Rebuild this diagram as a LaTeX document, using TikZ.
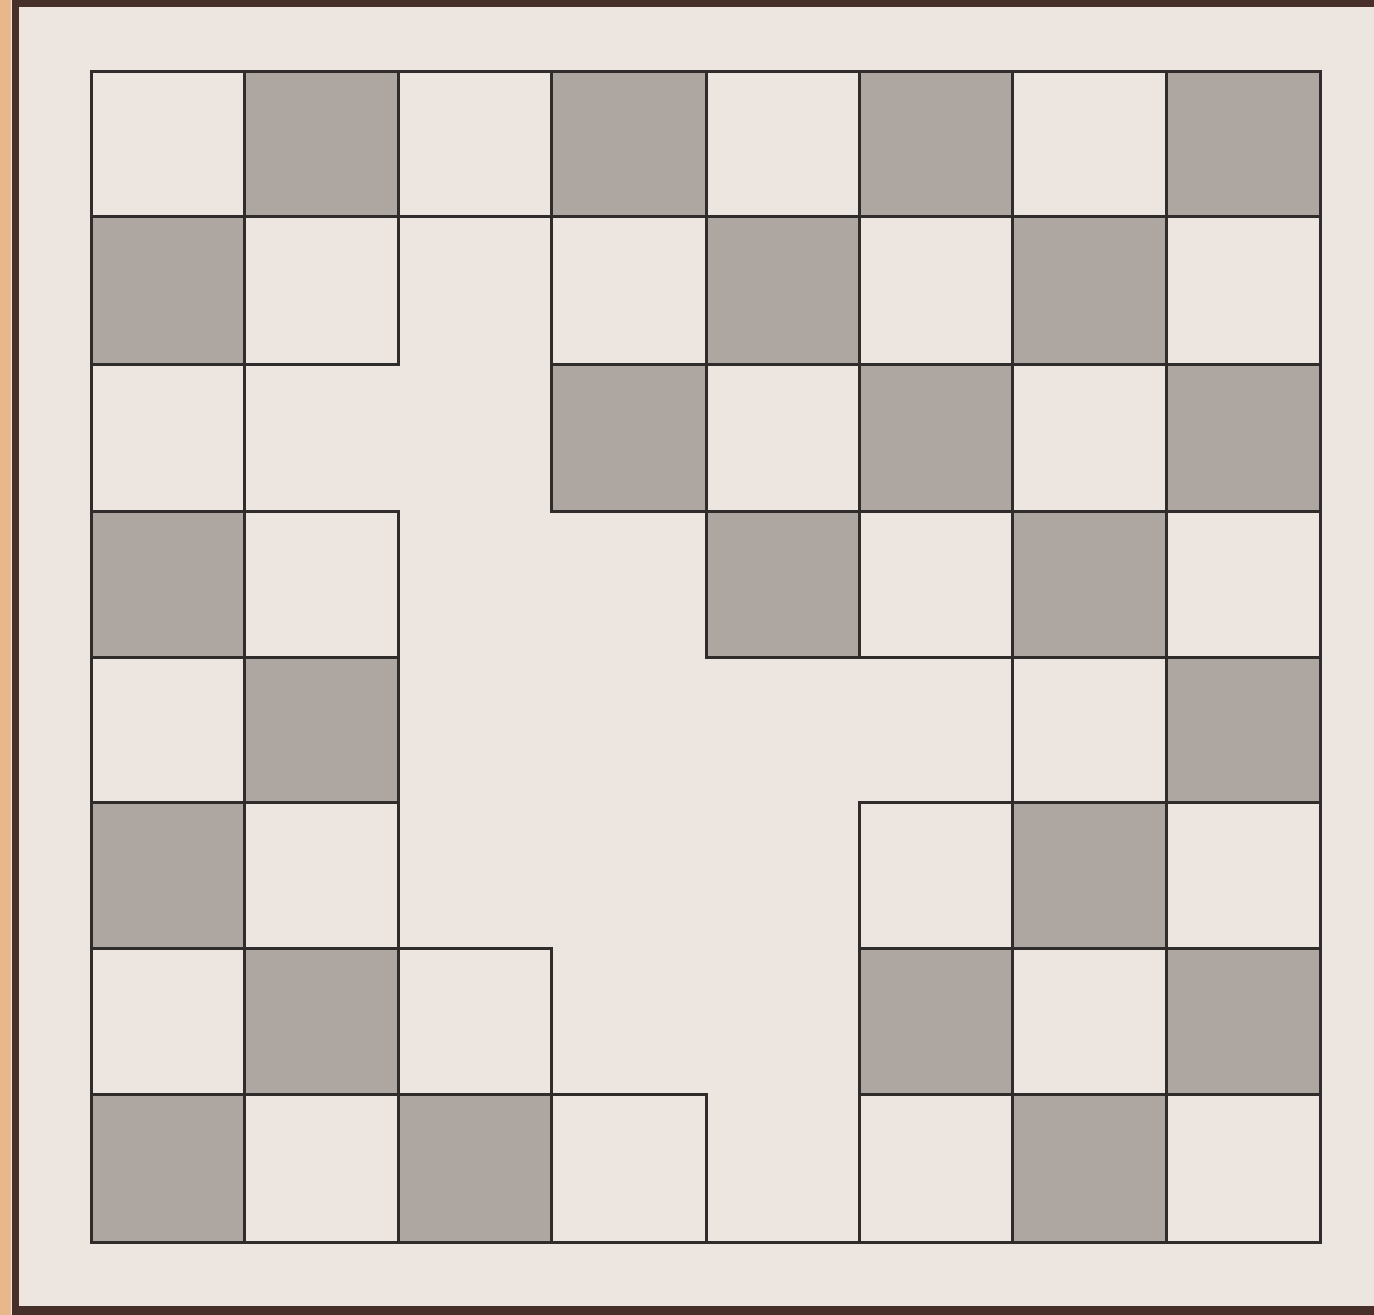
\documentclass[tikz,border=0pt]{standalone}
\definecolor{bg}{RGB}{237,230,224}
\definecolor{edgeorange}{RGB}{232,184,140}
\definecolor{framedark}{RGB}{72,48,42}
\definecolor{shade}{RGB}{174,166,161}
\definecolor{gridline}{RGB}{48,44,44}
\begin{document}
\begin{tikzpicture}[x=0.5pt,y=-0.5pt,
  cellline/.style={draw=gridline,line width=1.5pt,line join=miter},
  shadedcell/.style={fill=shade}]
\useasboundingbox (0,0) rectangle (1374,1315);
% paper background and frame
\fill[bg] (0,0) rectangle (1374,1315);
\fill[edgeorange] (0,0) rectangle (11,1315);
\fill[framedark] (12,4) rectangle (19,1315);
\fill[framedark] (12,0) rectangle (1374,7);
\fill[framedark] (12,1306) rectangle (1374,1315);
\def\xs{{91,244,398,551,706,859,1012,1166,1320}}
\def\ys{{72,217,365,511,657,802,948,1094,1242}}
% shaded squares
\foreach \r/\c in {0/1,0/3,0/5,0/7,
                   1/0,1/4,1/6,
                   2/3,2/5,2/7,
                   3/0,3/4,3/6,
                   4/1,4/7,
                   5/0,5/6,
                   6/1,6/5,6/7,
                   7/0,7/2,7/6}{
  \pgfmathsetmacro\xa{\xs[\c]}
  \pgfmathsetmacro\xb{\xs[\c+1]}
  \pgfmathsetmacro\ya{\ys[\r]}
  \pgfmathsetmacro\yb{\ys[\r+1]}
  \fill[shadedcell] (\xa,\ya) rectangle (\xb,\yb);
}
% outlines of every square that is still on the board
\foreach \r/\c in {0/0,0/1,0/2,0/3,0/4,0/5,0/6,0/7,
                   1/0,1/1,1/3,1/4,1/5,1/6,1/7,
                   2/0,2/3,2/4,2/5,2/6,2/7,
                   3/0,3/1,3/4,3/5,3/6,3/7,
                   4/0,4/1,4/6,4/7,
                   5/0,5/1,5/5,5/6,5/7,
                   6/0,6/1,6/2,6/5,6/6,6/7,
                   7/0,7/1,7/2,7/3,7/5,7/6,7/7}{
  \pgfmathsetmacro\xa{\xs[\c]}
  \pgfmathsetmacro\xb{\xs[\c+1]}
  \pgfmathsetmacro\ya{\ys[\r]}
  \pgfmathsetmacro\yb{\ys[\r+1]}
  \draw[cellline] (\xa,\ya) rectangle (\xb,\yb);
}
% outer border of the board
\draw[cellline] (91,72) rectangle (1320,1242);
\end{tikzpicture}
\end{document}
